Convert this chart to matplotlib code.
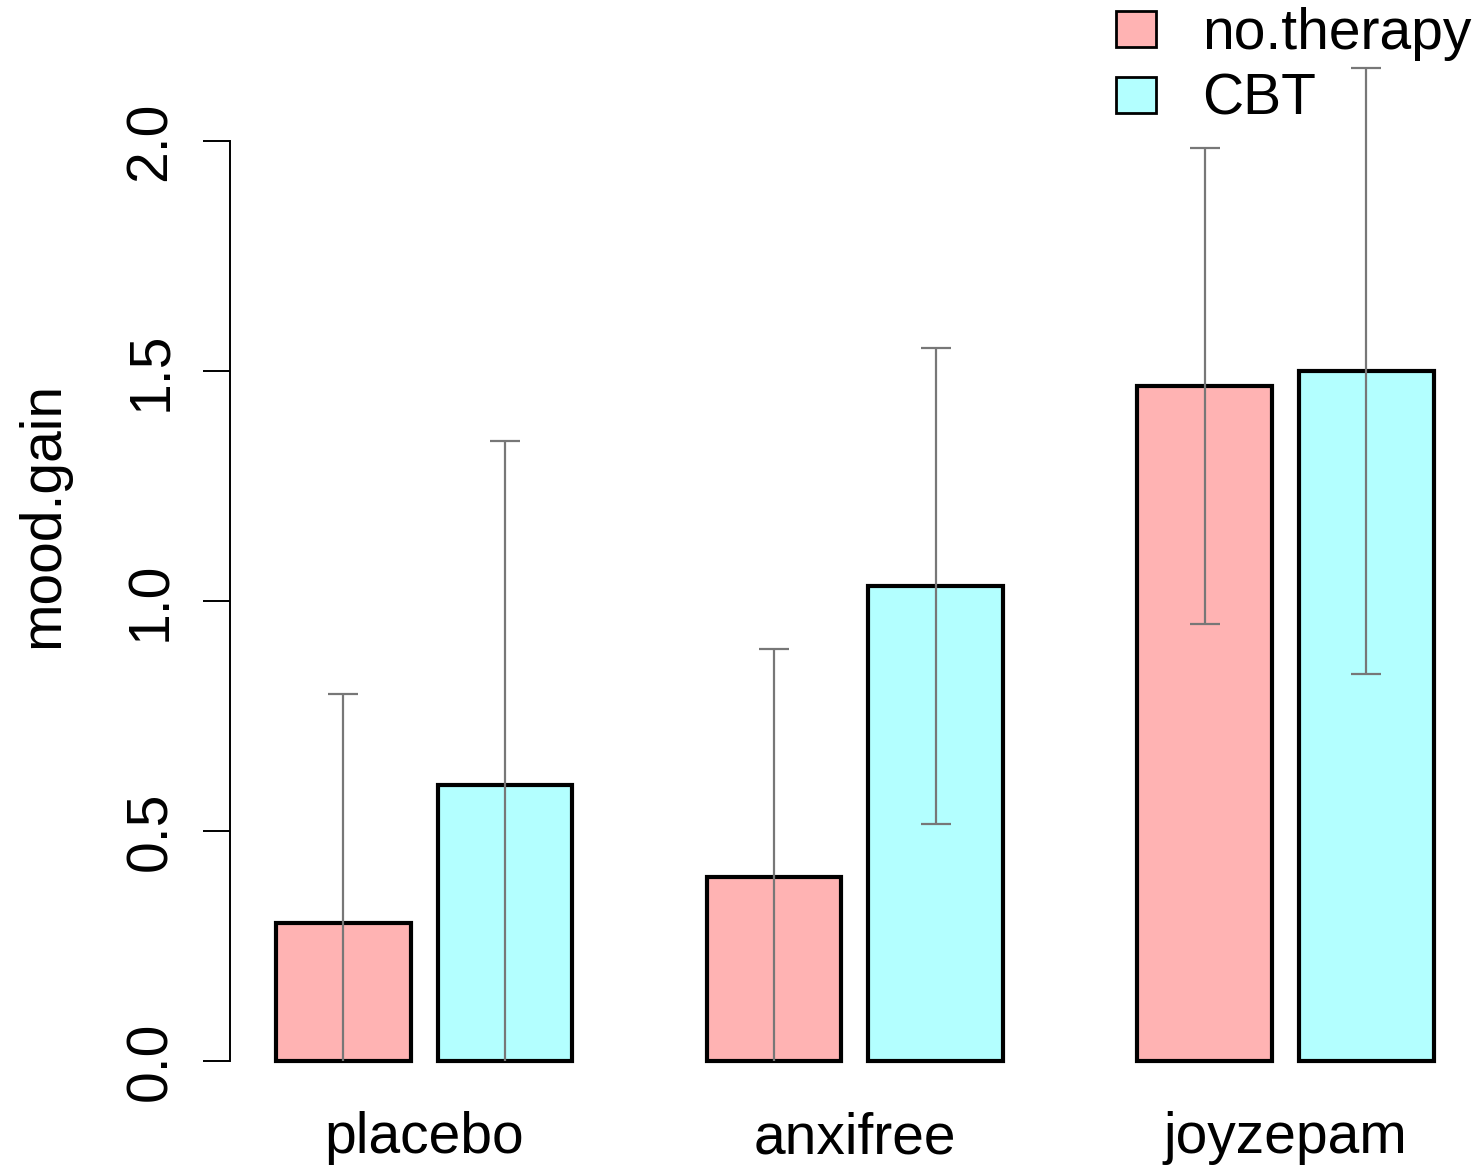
import matplotlib
matplotlib.use('Agg')
import matplotlib.pyplot as plt
import numpy as np
from matplotlib.patches import Patch

plt.rcParams['font.family'] = ['Liberation Sans', 'DejaVu Sans']

# data
drugs = ['placebo', 'anxifree', 'joyzepam']
therapies = ['no.therapy', 'CBT']
mean_no_therapy = [0.300, 0.400, 1.467]
mean_cbt = [0.600, 1.033, 1.500]
ci_no_therapy = [0.498, 0.496, 0.518]
ci_cbt = [0.748, 0.517, 0.659]
colors = ['#FFB3B3', '#B3FFFF']

W, H = 1482, 1171
fig = plt.figure(figsize=(W / 100, H / 100), dpi=100)
# axes from the y axis line to the right edge, bottom at y=0
ax = fig.add_axes([230 / W, (H - 1061) / H, 1 - 230 / W, 1061 / H])

fs = 41
bar_w = 1.0
gap_in = 0.2
gap_out = 1.0
group_step = 2 * bar_w + gap_in + gap_out

means = [mean_no_therapy, mean_cbt]
cis = [ci_no_therapy, ci_cbt]
handles = []
for j in range(2):
    lefts = gap_out + np.arange(len(drugs)) * group_step + j * (bar_w + gap_in)
    centers = lefts + bar_w / 2
    ax.bar(centers, means[j], width=bar_w, color=colors[j], edgecolor='black',
           linewidth=3.0, clip_on=False, zorder=2)
    ax.errorbar(centers, means[j], yerr=cis[j], fmt='none', ecolor='#777777',
                elinewidth=1.6, capsize=10.5, capthick=1.6, zorder=3)
    handles.append(Patch(facecolor=colors[j], edgecolor='black', linewidth=2.0,
                         label=therapies[j]))

group_centers = gap_out + np.arange(len(drugs)) * group_step + bar_w + gap_in / 2
ax.set_xticks(group_centers)
ax.set_xticklabels(drugs, fontsize=fs)
ax.tick_params(axis='x', length=0, pad=36)

px_unit = 134.6
x0 = 276 - px_unit
ax.set_xlim((230 - x0) / px_unit, (W - x0) / px_unit)
ax.set_ylim(0, 1061 / 460)
ax.set_yticks([0.0, 0.5, 1.0, 1.5, 2.0])
ax.set_yticklabels(['0.0', '0.5', '1.0', '1.5', '2.0'], fontsize=fs, rotation=90,
                   va='center')
ax.tick_params(axis='y', length=19.5, width=1.4, pad=18)

for s in ['top', 'right', 'bottom']:
    ax.spines[s].set_visible(False)
ax.spines['left'].set_bounds(0, 2)
ax.spines['left'].set_linewidth(1.4)

ax.set_ylabel('mood.gain', fontsize=fs)
ax.yaxis.set_label_coords((70 - 230) / (W - 230), 0.515)

fig.legend(handles=handles, loc='upper left',
           bbox_to_anchor=(1116 / W, 1 - 7 / H),
           frameon=False, fontsize=fs, handlelength=0.7, handleheight=0.58,
           handletextpad=0.82, labelspacing=0.21, borderpad=0.0, borderaxespad=0)

fig.savefig('out.png', dpi=100)
